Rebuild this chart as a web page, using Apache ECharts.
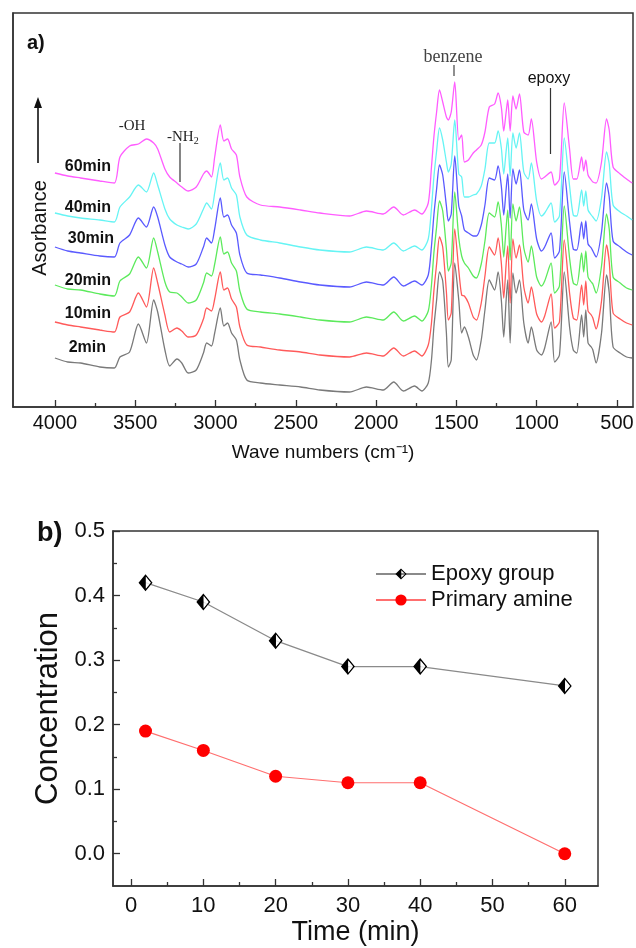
<!DOCTYPE html>
<html>
<head>
<meta charset="utf-8">
<script src="https://cdn.jsdelivr.net/npm/echarts@6/dist/echarts.min.js"></script>
<style>
html,body{margin:0;padding:0;background:#fff;}
#chart{width:636px;height:948px;}
</style>
</head>
<body>
<div id="chart"></div>
<script>
// ---------- Panel a) FTIR spectra (absorbance in arbitrary units, curves offset) ----------
var wavenumbers = [4000,3920,3840,3720,3630,3595,3535,3480,3430,3385,3360,3315,3285,3240,3210,3170,3120,3075,3055,3025,3005,2970,2948,2925,2900,2870,2848,2805,2720,2600,2470,2350,2165,2060,1955,1890,1830,1760,1715,1675,1655,1640,1623,1605,1585,1562,1550,1532,1510,1485,1467,1450,1425,1395,1375,1345,1322,1295,1262,1240,1220,1205,1190,1180,1165,1148,1128,1107,1080,1053,1033,1000,970,950,910,888,858,828,795,772,750,720,707,694,680,660,650,630,596,565,548,524,480,440,405];

var abs2min = [49,45,44,40,39,50,55,83,64,107,95,57,41,48,44,34,37,54,64,61,74,99,81,84,74,67,47,27,
  24,22,20,17,15,20,17,25,16,21,16,24,
  47,80,107,135,126,74,40,47,144,107,74,80,70,52,47,67,97,127,117,135,107,70,107,127,64,134,114,127,84,64,80,57,52,59,85,45,52,135,80,57,54,92,70,97,64,60,57,44,74,132,114,60,54,50,49];

var abs10min = [85,82,80,77,75,90,95,114,100,139,124,92,75,79,76,70,72,88,99,96,108,135,117,119,108,100,80,62,
  60,57,55,52,50,54,51,59,51,56,51,62,
  84,116,143,170,160,115,87,94,178,137,112,111,104,90,87,104,131,160,152,169,144,109,143,161,104,168,149,162,120,104,120,93,85,91,113,79,85,167,114,89,87,122,102,126,96,92,89,78,106,162,145,94,88,84,82];

var abs20min = [122,118,117,113,111,126,133,150,139,169,155,125,115,114,110,104,107,124,134,131,143,170,153,155,144,136,116,98,
  95,93,90,87,85,90,87,95,86,91,86,96,
  122,154,180,206,196,158,136,144,215,169,151,144,139,131,129,143,166,194,190,205,182,150,180,197,147,203,186,200,159,145,161,130,121,126,144,114,121,201,149,124,122,154,135,156,130,125,123,114,141,193,178,130,124,119,117];

var abs30min = [160,156,154,151,150,164,172,189,180,200,190,162,150,145,143,140,143,160,169,164,178,209,190,192,182,174,152,134,
  132,129,125,122,120,125,122,130,121,126,122,132,
  161,192,218,242,232,201,186,193,251,201,191,177,174,171,171,182,202,229,227,241,221,192,218,233,189,238,223,237,197,187,203,168,156,160,174,149,156,235,185,158,157,185,168,186,163,159,156,150,175,224,210,166,160,155,152];

var abs40min = [194,191,189,187,185,200,210,222,215,234,222,198,188,182,180,178,183,198,204,198,214,244,227,229,219,212,190,172,
  167,164,160,157,155,160,157,164,156,161,157,168,
  199,230,256,279,267,245,235,243,287,233,230,210,210,212,213,221,238,264,264,276,259,233,256,269,231,274,259,274,235,228,244,206,191,194,204,185,191,269,221,192,191,217,201,216,197,192,190,186,209,255,243,202,195,191,187];

var abs60min = [234,231,229,226,224,250,261,263,268,264,258,238,230,224,220,216,220,233,236,230,250,282,266,268,258,252,230,210,
  202,200,197,194,191,196,193,200,192,197,193,204,
  240,270,295,317,305,290,287,295,325,267,272,245,247,254,257,262,275,300,303,314,300,276,295,307,276,311,298,313,275,272,288,245,228,230,235,222,228,304,258,228,228,250,236,247,232,227,225,224,245,288,277,240,233,228,224];

var spectraNames = ['2min','10min','20min','30min','40min','60min'];
var spectraColors = ['#7a7a7a','#ff5a5a','#5cea5c','#5a5aff','#66f4f4','#ff5cff'];
var waveMajorTicks = [4000,3500,3000,2500,2000,1500,1000,500];
var waveMinorTicks = [3750,3250,2750,2250,1750,1250,750];

// ---------- Panel b) concentration vs time ----------
var timeMin = [2,10,20,30,40,60];
var epoxyGroup = [0.42,0.39,0.33,0.29,0.29,0.26];
var primaryAmine = [0.19,0.16,0.12,0.11,0.11,0.00];
var timeMajorTicks = [0,10,20,30,40,50,60];
var timeMinorTicks = [5,15,25,35,45,55];
var concMajorTicks = [0,0.1,0.2,0.3,0.4,0.5];
var concMinorTicks = [0.05,0.15,0.25,0.35,0.45];

var FONT = '"Liberation Sans", Arial, sans-serif';
var SERIF = '"Liberation Serif", "Times New Roman", serif';

function pairs(xs, ys){ return xs.map(function(x,i){ return [x, ys[i]]; }); }

var spectra = [abs2min, abs10min, abs20min, abs30min, abs40min, abs60min];
var series = [];
spectra.forEach(function(arr, i){
  series.push({
    name: spectraNames[i], type: 'line', xAxisIndex: 0, yAxisIndex: 0,
    data: pairs(wavenumbers, arr), showSymbol: false, symbol: 'none',
    smooth: 0.25, lineStyle: {color: spectraColors[i], width: 1.3},
    silent: true, z: 2 + i
  });
});

var halfDiamond = 'path://M10 0L0 12L10 24Z M10 0L20 12L10 24Z M10.5 3.7L10.5 20.3L17.4 12Z';
var SYM_W = 14, SYM_H = 17;

series.push({
  name: 'Epoxy group', type: 'line', xAxisIndex: 3, yAxisIndex: 1,
  data: pairs(timeMin, epoxyGroup),
  symbol: halfDiamond, symbolSize: [SYM_W, SYM_H],
  lineStyle: {color: '#8a8a8a', width: 1.3},
  itemStyle: {color: '#000'}, z: 5
});
series.push({
  name: 'epoxyWhite', type: 'scatter', xAxisIndex: 3, yAxisIndex: 1,
  data: pairs(timeMin, epoxyGroup),
  symbol: 'path://M0 0L0 16.6L6.9 8.3Z',
  symbolSize: [SYM_W*6.9/20, SYM_H*16.6/24],
  symbolOffset: [SYM_W*3.95/20, 0],
  itemStyle: {color: '#fff'}, silent: true, z: 6
});
series.push({
  name: 'Primary amine', type: 'line', xAxisIndex: 3, yAxisIndex: 1,
  data: pairs(timeMin, primaryAmine),
  symbol: 'circle', symbolSize: 13,
  lineStyle: {color: '#ff6f6f', width: 1.2},
  itemStyle: {color: '#ff0000'}, z: 5
});

var axisLineStyle = {color: '#333', width: 1.5};

function tickAxis(gridIndex, pos, min, max, values, len, inverse){
  return {type: 'value', gridIndex: gridIndex, position: pos, min: min, max: max, inverse: !!inverse,
    axisLine: {show: false, onZero: false},
    axisTick: {show: true, inside: true, length: len, customValues: values, lineStyle: {color: '#333', width: 1.3}},
    axisLabel: {show: false}, splitLine: {show: false}};
}

var option = {
  animation: false,
  backgroundColor: '#fff',
  textStyle: {fontFamily: FONT},
  grid: [
    {left: 13, top: 13, width: 620, height: 394, show: true, borderColor: '#333', borderWidth: 1.5,
     containLabel: false, outerBoundsMode: 'none'},
    {left: 113, top: 531, width: 485, height: 355, show: true, borderColor: '#333', borderWidth: 1.5,
     containLabel: false, outerBoundsMode: 'none'}
  ],
  xAxis: [
    {type: 'value', gridIndex: 0, position: 'bottom', inverse: true, min: 400, max: 4261,
     axisLine: {show: true, lineStyle: axisLineStyle, onZero: false},
     axisTick: {show: false},
     axisLabel: {show: true, customValues: waveMajorTicks, fontSize: 20, color: '#111', margin: 6, fontFamily: FONT,
                 formatter: function(v){ return String(v); }},
     splitLine: {show: false},
     name: 'Wave numbers (cm⁻¹)', nameLocation: 'middle', nameGap: 36,
     nameTextStyle: {fontSize: 19, color: '#111', fontFamily: FONT}},
    tickAxis(0, 'bottom', 400, 4261, waveMajorTicks, 7, true),
    tickAxis(0, 'bottom', 400, 4261, waveMinorTicks, 4, true),
    {type: 'value', gridIndex: 1, position: 'bottom', min: -2.5, max: 64.6,
     axisLine: {show: true, lineStyle: axisLineStyle, onZero: false},
     axisTick: {show: false},
     axisLabel: {show: true, customValues: timeMajorTicks, fontSize: 22, color: '#111', margin: 9, fontFamily: FONT},
     splitLine: {show: false},
     name: 'Time (min)', nameLocation: 'middle', nameGap: 33,
     nameTextStyle: {fontSize: 27, color: '#111', fontFamily: FONT}},
    tickAxis(1, 'bottom', -2.5, 64.6, timeMajorTicks, 7),
    tickAxis(1, 'bottom', -2.5, 64.6, timeMinorTicks, 4)
  ],
  yAxis: [
    {type: 'value', gridIndex: 0, position: 'left', min: 0, max: 394,
     axisLine: {show: true, lineStyle: axisLineStyle, onZero: false}, axisTick: {show: false},
     axisLabel: {show: false}, splitLine: {show: false}},
    {type: 'value', gridIndex: 1, position: 'left', min: -0.05, max: 0.5,
     axisLine: {show: true, lineStyle: axisLineStyle, onZero: false},
     axisTick: {show: false},
     axisLabel: {show: true, customValues: concMajorTicks, fontSize: 22, color: '#111', margin: 8, fontFamily: FONT,
                 formatter: function(v){ return v.toFixed(1); }},
     splitLine: {show: false},
     name: 'Concentration', nameLocation: 'middle', nameGap: 43, nameRotate: 90,
     nameTextStyle: {fontSize: 31, color: '#111', fontFamily: FONT}},
    tickAxis(1, 'left', -0.05, 0.5, concMajorTicks, 7),
    tickAxis(1, 'left', -0.05, 0.5, concMinorTicks, 4)
  ],
  legend: {
    data: ['Epoxy group', 'Primary amine'],
    orient: 'vertical', left: 370, top: 558,
    itemWidth: 50, itemHeight: 14, itemGap: 4,
    textStyle: {fontSize: 22, color: '#111', fontFamily: FONT},
    selectedMode: false
  },
  graphic: [
    {type: 'text', left: 27, top: 33, style: {text: 'a)', font: 'bold 20px ' + FONT, fill: '#111'}},
    {type: 'line', shape: {x1: 38, y1: 163, x2: 38, y2: 106}, style: {stroke: '#111', lineWidth: 1.6}},
    {type: 'polygon', shape: {points: [[34, 108], [38, 97], [42, 108]]}, style: {fill: '#111'}},
    {type: 'text', x: 40, y: 228, rotation: Math.PI / 2,
     style: {text: 'Asorbance', font: '20px ' + FONT, fill: '#111', textAlign: 'center', textVerticalAlign: 'middle'}},
    {type: 'text', x: 111, y: 167, style: {text: '60min', font: 'bold 16px ' + FONT, fill: '#111', textAlign: 'right', textVerticalAlign: 'middle'}},
    {type: 'text', x: 111, y: 208, style: {text: '40min', font: 'bold 16px ' + FONT, fill: '#111', textAlign: 'right', textVerticalAlign: 'middle'}},
    {type: 'text', x: 114, y: 239, style: {text: '30min', font: 'bold 16px ' + FONT, fill: '#111', textAlign: 'right', textVerticalAlign: 'middle'}},
    {type: 'text', x: 111, y: 281, style: {text: '20min', font: 'bold 16px ' + FONT, fill: '#111', textAlign: 'right', textVerticalAlign: 'middle'}},
    {type: 'text', x: 111, y: 314, style: {text: '10min', font: 'bold 16px ' + FONT, fill: '#111', textAlign: 'right', textVerticalAlign: 'middle'}},
    {type: 'text', x: 106, y: 348, style: {text: '2min', font: 'bold 16px ' + FONT, fill: '#111', textAlign: 'right', textVerticalAlign: 'middle'}},
    {type: 'text', x: 132, y: 126, style: {text: '-OH', font: '15px ' + SERIF, fill: '#222', textAlign: 'center', textVerticalAlign: 'middle'}},
    {type: 'text', x: 167, y: 137, style: {text: '{a|-NH}{s|2}', textVerticalAlign: 'middle',
      rich: {a: {font: '15px ' + SERIF, fill: '#222'}, s: {font: '10px ' + SERIF, fill: '#222', padding: [9, 0, 0, 0]}}}},
    {type: 'line', shape: {x1: 180, y1: 143, x2: 180, y2: 182}, style: {stroke: '#333', lineWidth: 1.2}},
    {type: 'text', x: 453, y: 57, style: {text: 'benzene', font: '18px ' + SERIF, fill: '#444', textAlign: 'center', textVerticalAlign: 'middle'}},
    {type: 'line', shape: {x1: 454, y1: 65, x2: 454, y2: 76}, style: {stroke: '#444', lineWidth: 1.2}},
    {type: 'text', x: 549, y: 79, style: {text: 'epoxy', font: '16px ' + FONT, fill: '#111', textAlign: 'center', textVerticalAlign: 'middle'}},
    {type: 'line', shape: {x1: 550.5, y1: 88, x2: 550.5, y2: 154}, style: {stroke: '#333', lineWidth: 1.2}},
    {type: 'text', left: 37, top: 520, style: {text: 'b)', font: 'bold 27px ' + FONT, fill: '#111'}}
  ],
  series: series
};

var chart = echarts.init(document.getElementById('chart'), null, {renderer: 'canvas'});
chart.setOption(option);
</script>
</body>
</html>
